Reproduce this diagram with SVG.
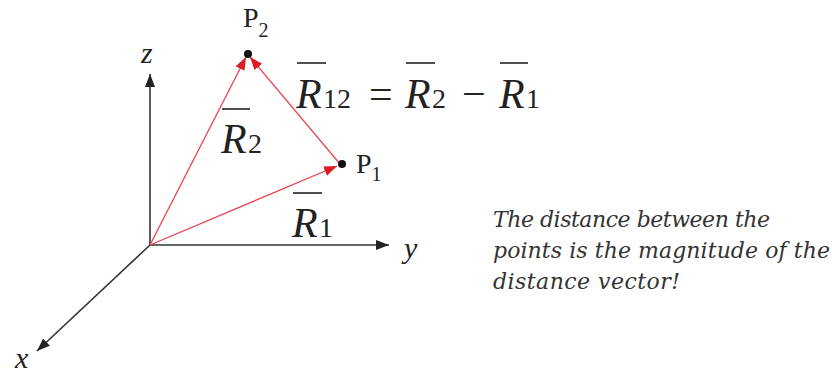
<svg xmlns="http://www.w3.org/2000/svg" width="832" height="375" viewBox="0 0 832 375">
<style>
.ax{stroke:#333;stroke-width:1.6;fill:none}
.vec{stroke:#e8434f;stroke-width:1.3;fill:none}
.ov{stroke:#222;stroke-width:1.6}
.m{font-style:italic;fill:#222}
.d{fill:#222}
.note{font-style:italic;font-size:22px;fill:#333}
</style>
<defs>
<marker id="ka" markerUnits="userSpaceOnUse" markerWidth="14" markerHeight="12" refX="13" refY="5" orient="auto"><path d="M0,0 L13,5 L0,10 Z" fill="#222"/></marker>
<marker id="ra" markerUnits="userSpaceOnUse" markerWidth="14" markerHeight="12" refX="13" refY="5" orient="auto"><path d="M0,0 L13,5 L0,10 Z" fill="#e01b24"/></marker>
</defs>
<rect width="832" height="375" fill="#fff"/>
<g id="connectors">
<line id="z-axis" class="ax" x1="150" y1="245" x2="150" y2="74" marker-end="url(#ka)"/>
<line id="y-axis" class="ax" x1="150" y1="245" x2="389" y2="245" marker-end="url(#ka)"/>
<line id="x-axis" class="ax" x1="150" y1="245" x2="37" y2="351" marker-end="url(#ka)"/>
<line id="R2-vec" class="vec" x1="150" y1="245" x2="246" y2="57" marker-end="url(#ra)"/>
<line id="R1-vec" class="vec" x1="150" y1="245" x2="337" y2="166" marker-end="url(#ra)"/>
<line id="R12-vec" class="vec" x1="340" y1="164" x2="250" y2="57" marker-end="url(#ra)"/>
</g>
<g font-family="Liberation Serif, Times New Roman, Tinos, serif">
<g id="axis-labels">
<text class="m" x="141" y="63" font-size="30">z</text>
<text class="m" x="404" y="258" font-size="30">y</text>
<text class="m" x="15" y="368" font-size="30">x</text>
</g>
<g id="P2">
<circle cx="248" cy="54" r="4" fill="#111"/>
<text class="d" x="243" y="27" font-size="28">P<tspan font-size="20" dy="10">2</tspan></text>
</g>
<g id="P1">
<circle cx="342" cy="164" r="4" fill="#111"/>
<text class="d" x="356" y="173" font-size="28">P<tspan font-size="20" dy="8">1</tspan></text>
</g>
<g id="R2-label">
<line class="ov" x1="222" y1="109" x2="250" y2="109"/>
<text class="m" x="221" y="153" font-size="42">R</text>
<text class="d" x="248" y="153" font-size="28">2</text>
</g>
<g id="R1-label">
<line class="ov" x1="293" y1="193" x2="322" y2="193"/>
<text class="m" x="292" y="237" font-size="42">R</text>
<text class="d" x="319" y="237" font-size="28">1</text>
</g>
<g id="equation">
<line class="ov" x1="297" y1="63" x2="326" y2="63"/>
<text class="m" x="296" y="108" font-size="42">R</text>
<text class="d" x="323" y="108" font-size="28">12</text>
<text class="d" x="369" y="108" font-size="42">=</text>
<line class="ov" x1="406" y1="63" x2="435" y2="63"/>
<text class="m" x="405" y="108" font-size="42">R</text>
<text class="d" x="432" y="108" font-size="28">2</text>
<text class="d" x="462" y="108" font-size="42">−</text>
<line class="ov" x1="500" y1="63" x2="528" y2="63"/>
<text class="m" x="499" y="108" font-size="42">R</text>
<text class="d" x="526" y="108" font-size="28">1</text>
</g>
</g>
<g id="note" font-family="DejaVu Serif, Liberation Serif, serif">
<text class="note" x="493" y="227" textLength="277" lengthAdjust="spacing">The distance between the</text>
<text class="note" x="493" y="258" textLength="337" lengthAdjust="spacing">points is the magnitude of the</text>
<text class="note" x="493" y="289" textLength="187" lengthAdjust="spacing">distance vector!</text>
</g>
</svg>
